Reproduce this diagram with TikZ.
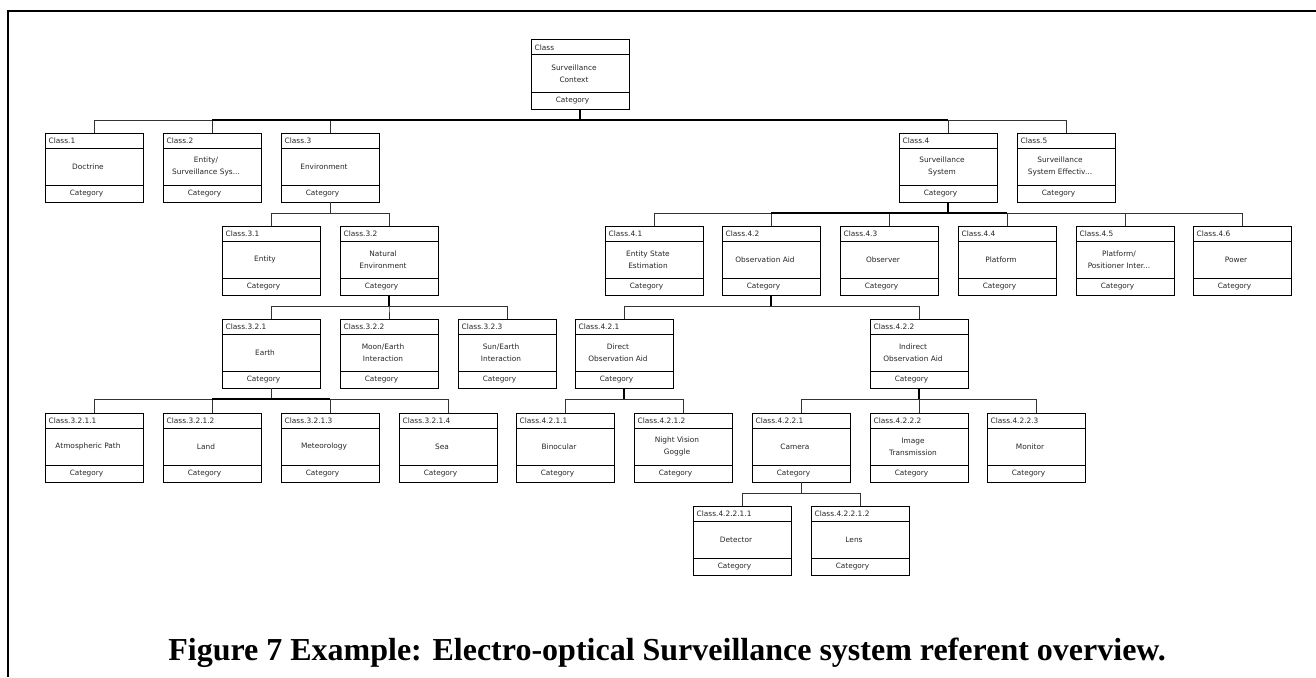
\documentclass[tikz,border=0pt]{standalone}
\usepackage{fontspec}
\setmainfont{Liberation Serif}
\newfontfamily\boxfont{DejaVu Sans}
\usetikzlibrary{calc}

\tikzset{
  frame/.style={draw, line width=1pt, minimum width=98pt, minimum height=69pt,
    inner sep=0pt, outer sep=0pt},
  sep/.style={line width=1pt},
  hdr/.style={anchor=west, inner sep=0pt, text=black!85,
    font=\boxfont\fontsize{7.4}{8}\selectfont},
  bodytxt/.style={align=center, inner sep=0pt, text=black!85,
    font=\boxfont\fontsize{7.4}{12}\selectfont},
  foot/.style={inner sep=0pt, text=black!85,
    font=\boxfont\fontsize{7.3}{9}\selectfont},
  conn/.style={line width=0.9pt, black!80},
  heavy/.style={line width=1.8pt, black},
  caption/.style={anchor=base, inner sep=0pt,
    font=\bfseries\fontsize{32}{36}\selectfont},
}

% class box: name, left x, top y, header, body
\newcommand\clsbox[5]{%
  \node[frame, anchor=north west] (#1) at (#2,#3) {};
  \draw[sep] ($(#1.north west)+(0,15)$) -- ($(#1.north east)+(0,15)$);
  \draw[sep] ($(#1.south west)+(0,-17)$) -- ($(#1.south east)+(0,-17)$);
  \node[hdr] (#1-h) at ($(#1.north west)+(3.5,7.5)$) {#4};
  \node[bodytxt] (#1-b) at ($(#1.north)+(-6,33.5)$) {#5};
  \node[foot] (#1-f) at ($(#1.south)+(-7.5,-8.5)$) {Category};
}
% tree link from parent to child through a bus 11pt under the parent
\newcommand\link[2]{\draw[conn] (#1.south) -- ++(0,11) -| (#2.north);}

\begin{document}
\begin{tikzpicture}[x=1pt, y=-1pt]
\useasboundingbox (0,0) rectangle (1316,677);

% page frame (top and left rules)
\draw[line width=2pt] (1316,11) -- (7.8,11) -- (7.8,677);

% level 0
\clsbox{root}{531}{40}{Class}{Surveillance\\Context}

% level 1
\clsbox{c1}{45}{133}{Class.1}{Doctrine}
\clsbox{c2}{163}{133}{Class.2}{Entity/\\Surveillance Sys...}
\clsbox{c3}{281}{133}{Class.3}{Environment}
\clsbox{c4}{899}{133}{Class.4}{Surveillance\\System}
\clsbox{c5}{1017}{133}{Class.5}{Surveillance\\System Effectiv...}

% level 2
\clsbox{c31}{222}{226}{Class.3.1}{Entity}
\clsbox{c32}{340}{226}{Class.3.2}{Natural\\Environment}
\clsbox{c41}{605}{226}{Class.4.1}{Entity State\\Estimation}
\clsbox{c42}{722}{226}{Class.4.2}{Observation Aid}
\clsbox{c43}{840}{226}{Class.4.3}{Observer}
\clsbox{c44}{958}{226}{Class.4.4}{Platform}
\clsbox{c45}{1076}{226}{Class.4.5}{Platform/\\Positioner Inter...}
\clsbox{c46}{1193}{226}{Class.4.6}{Power}

% level 3
\clsbox{c321}{222}{319}{Class.3.2.1}{Earth}
\clsbox{c322}{340}{319}{Class.3.2.2}{Moon/Earth\\Interaction}
\clsbox{c323}{458}{319}{Class.3.2.3}{Sun/Earth\\Interaction}
\clsbox{c421}{575}{319}{Class.4.2.1}{Direct\\Observation Aid}
\clsbox{c422}{870}{319}{Class.4.2.2}{Indirect\\Observation Aid}

% level 4
\clsbox{c3211}{45}{413}{Class.3.2.1.1}{Atmospheric Path}
\clsbox{c3212}{163}{413}{Class.3.2.1.2}{Land}
\clsbox{c3213}{281}{413}{Class.3.2.1.3}{Meteorology}
\clsbox{c3214}{399}{413}{Class.3.2.1.4}{Sea}
\clsbox{c4211}{516}{413}{Class.4.2.1.1}{Binocular}
\clsbox{c4212}{634}{413}{Class.4.2.1.2}{Night Vision\\Goggle}
\clsbox{c4221}{752}{413}{Class.4.2.2.1}{Camera}
\clsbox{c4222}{870}{413}{Class.4.2.2.2}{Image\\Transmission}
\clsbox{c4223}{987}{413}{Class.4.2.2.3}{Monitor}

% level 5
\clsbox{c42211}{693}{506}{Class.4.2.2.1.1}{Detector}
\clsbox{c42212}{811}{506}{Class.4.2.2.1.2}{Lens}

% tree links
\foreach \c in {c1,c2,c3,c4,c5} {\link{root}{\c}}
\foreach \c in {c31,c32} {\link{c3}{\c}}
\foreach \c in {c41,c42,c43,c44,c45,c46} {\link{c4}{\c}}
\foreach \c in {c321,c322,c323} {\link{c32}{\c}}
\foreach \c in {c421,c422} {\link{c42}{\c}}
\foreach \c in {c3211,c3212,c3213,c3214} {\link{c321}{\c}}
\foreach \c in {c4211,c4212} {\link{c421}{\c}}
\foreach \c in {c4221,c4222,c4223} {\link{c422}{\c}}
\foreach \c in {c42211,c42212} {\link{c4221}{\c}}

% heavier stretches of the links
\draw[heavy] (root.south) -- ++(0,11) coordinate (rb);
\draw[heavy] (c2.north |- rb) -- (c4.north |- rb);
\draw[heavy] (c32.south) -- ++(0,11);
\draw[heavy] (c4.south) -- ++(0,11) coordinate (b4);
\draw[heavy] (c42.north |- b4) -- (c44.north |- b4);
\draw[heavy] (c42.south) -- ++(0,11);
\draw[heavy] (c421.south) -- ++(0,11);
\draw[heavy] (c422.south) -- ++(0,11);
\draw[heavy] (c321.south) ++(0,11) coordinate (b321);
\draw[heavy] (c3212.north |- b321) -- (c3213.north |- b321);

% caption
\node[caption] (cap) at (667,660) {Figure 7 Example: Electro-optical Surveillance system referent overview.};
\end{tikzpicture}
\end{document}
